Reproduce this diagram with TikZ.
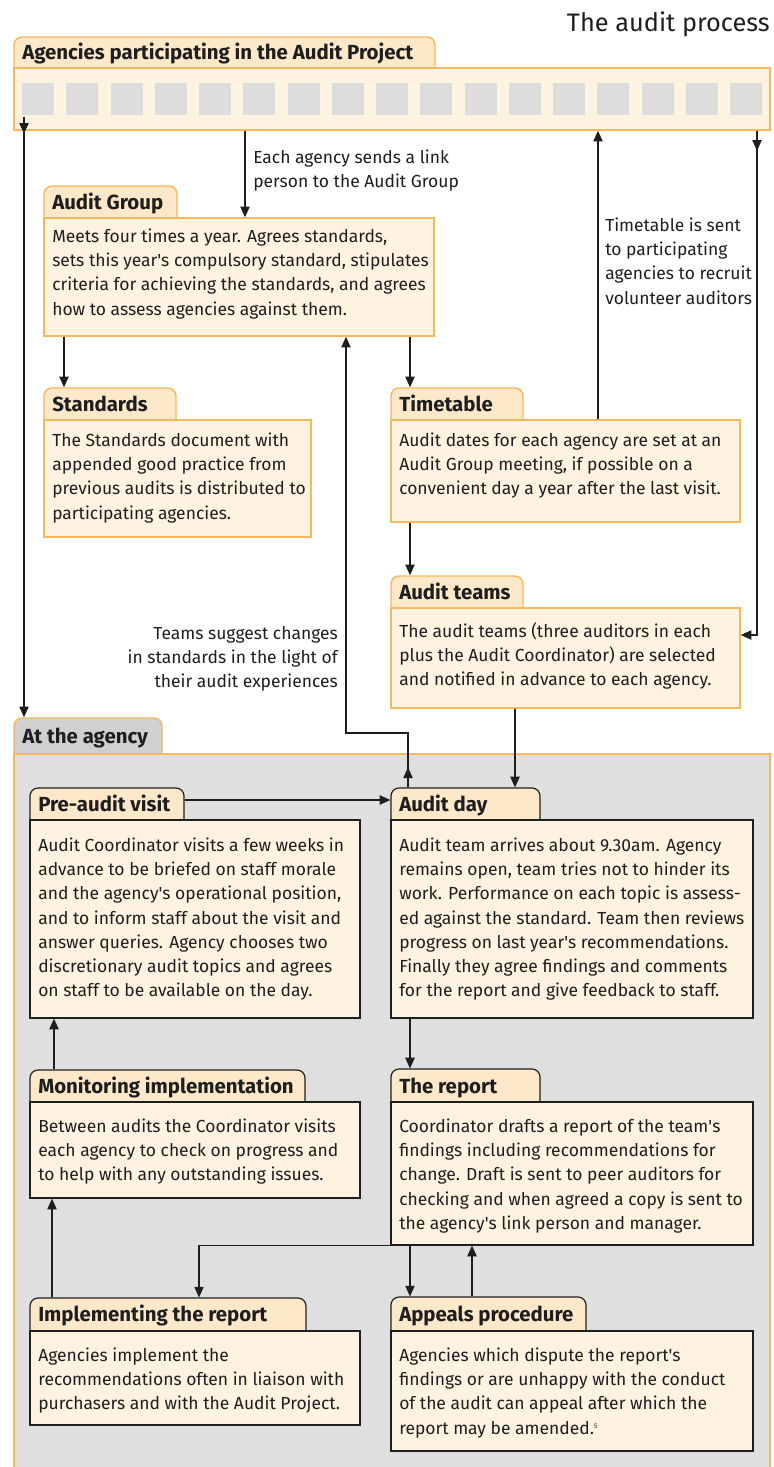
\documentclass[tikz,border=0pt]{standalone}
\usepackage{fontspec}
\setmainfont{Fira Sans}
\usetikzlibrary{arrows.meta,fit}
\definecolor{cream}{HTML}{FEF2E0}
\definecolor{tabcream}{HTML}{FDE8CA}
\definecolor{orangeb}{HTML}{F5B85C}
\definecolor{sq}{HTML}{DDDDDD}
\definecolor{agency}{HTML}{DFDFDF}
\definecolor{agencytab}{HTML}{D0D0D0}
\definecolor{ink}{HTML}{1E1E1E}
\newcommand\fs{\rule{0pt}{10.5pt}}
\newcommand\q{\textquotesingle}
\begin{document}
\begin{tikzpicture}[x=0.75pt,y=-0.75pt,
  otab/.style={draw=orangeb, line width=1.1pt, fill=tabcream, rounded corners=6pt, inner sep=0pt},
  obox/.style={draw=orangeb, line width=1.1pt, fill=cream, inner sep=0pt, rounded corners=0pt},
  dtab/.style={draw=ink, line width=0.9pt, fill=tabcream, rounded corners=6pt, inner sep=0pt},
  dbox/.style={draw=ink, line width=0.9pt, fill=cream, inner sep=0pt},
  head/.style={font=\fontsize{15.3}{18}\selectfont\bfseries, anchor=base west, inner sep=0pt, text=ink},
  body/.style={font=\fontsize{13.1}{18.2}\selectfont, anchor=north west, inner sep=0pt, align=left, text=ink},
  rbody/.style={body, anchor=north east, align=right},
  conn/.style={draw=ink, line width=0.9pt},
  arr/.style={conn, -{Triangle[length=8pt,width=7pt]}},
]
\useasboundingbox (0,0) rectangle (774,1467);
\fill[white] (0,0) rectangle (774,1467);

% title
\node[anchor=base east, inner sep=0pt, font=\fontsize{19}{21}\selectfont, text=ink] (title) at (770,31) {The audit process};

% top block
\node[otab, fit={(14,37) (435,80)}] (topTab) {};
\node[obox, fit={(14,68) (770,130)}] (topBox) {};
\node[head] (topHead) at (22,59) {Agencies participating in the Audit Project};
\foreach \i in {0,...,16} \fill[sq] (22+44.25*\i,83) rectangle ++(32,32);

% Audit group
\node[otab, fit={(44,186) (177,230)}] (agTab) {};
\node[obox, fit={(44,218) (434,336)}] (agBox) {};
\node[head] (agHead) at (52,209) {Audit Group};
\node[body] (agText) at (52,228) {\fs Meets four times a year. Agrees standards,\\ sets this year\q s compulsory standard, stipulates\\ criteria for achieving the standards, and agrees\\ how to assess agencies against them.};

% Standards
\node[otab, fit={(44,388) (176,432)}] (stTab) {};
\node[obox, fit={(44,420) (311,537)}] (stBox) {};
\node[head] (stHead) at (52,411) {Standards};
\node[body] (stText) at (52,432) {\fs The Standards document with\\ appended good practice from\\ previous audits is distributed to\\ participating agencies.};

% Timetable
\node[otab, fit={(391,388) (523,432)}] (ttTab) {};
\node[obox, fit={(391,420) (740,522)}] (ttBox) {};
\node[head] (ttHead) at (399,411) {Timetable};
\node[body] (ttText) at (399,432) {\fs Audit dates for each agency are set at an\\ Audit Group meeting, if possible on a\\ convenient day a year after the last visit.};

% Audit teams
\node[otab, fit={(391,576) (523,620)}] (atTab) {};
\node[obox, fit={(391,608) (740,708)}] (atBox) {};
\node[head] (atHead) at (399,599) {Audit teams};
\node[body] (atText) at (399,622) {\fs The audit teams (three auditors in each\\ plus the Audit Coordinator) are selected\\ and notified in advance to each agency.};

% labels
\node[body] (lblLink) at (253,149) {\fs Each agency sends a link\\ person to the Audit Group};
\node[body] (lblTime) at (605,217) {\fs Timetable is sent\\ to participating\\ agencies to recruit\\ volunteer auditors};
\node[rbody] (lblTeams) at (338,625) {\fs Teams suggest changes\\ in standards in the light of\\ their audit experiences};

% At the agency
\node[draw=orangeb, line width=1.1pt, fill=agencytab, rounded corners=6pt, inner sep=0pt, fit={(14,718) (162,766)}] (aaTab) {};
\node[draw=orangeb, line width=1.1pt, fill=agency, inner sep=0pt, fit={(14,754) (770,1485)}] (aaBox) {};
\node[head] (aaHead) at (22,743) {At the agency};

% Pre-audit visit
\node[dtab, fit={(30,788) (184,832)}] (paTab) {};
\node[dbox, fit={(30,820) (360,1018)}] (paBox) {};
\node[head] (paHead) at (38,811) {Pre-audit visit};
\node[body] (paText) at (38,837) {\fs Audit Coordinator visits a few weeks in\\ advance to be briefed on staff morale\\ and the agency\q s operational position,\\ and to inform staff about the visit and\\ answer queries. Agency chooses two\\ discretionary audit topics and agrees\\ on staff to be available on the day.};

% Audit day
\node[dtab, fit={(391,788) (540,832)}] (adTab) {};
\node[dbox, fit={(391,820) (753,1018)}] (adBox) {};
\node[head] (adHead) at (399,811) {Audit day};
\node[body] (adText) at (399,837) {\fs Audit team arrives about 9.30am. Agency\\ remains open, team tries not to hinder its\\ work. Performance on each topic is assess-\\ ed against the standard. Team then reviews\\ progress on last year\q s recommendations.\\ Finally they agree findings and comments\\ for the report and give feedback to staff.};

% Monitoring implementation
\node[dtab, fit={(30,1070) (305,1114)}] (moTab) {};
\node[dbox, fit={(30,1102) (360,1198)}] (moBox) {};
\node[head] (moHead) at (38,1093) {Monitoring implementation};
\node[body] (moText) at (38,1118) {\fs Between audits the Coordinator visits\\ each agency to check on progress and\\ to help with any outstanding issues.};

% The report
\node[dtab, fit={(391,1069) (540,1114)}] (rpTab) {};
\node[dbox, fit={(391,1102) (753,1245)}] (rpBox) {};
\node[head] (rpHead) at (399,1093) {The report};
\node[body] (rpText) at (399,1118) {\fs Coordinator drafts a report of the team\q s\\ findings including recommendations for\\ change. Draft is sent to peer auditors for\\ checking and when agreed a copy is sent to\\ the agency\q s link person and manager.};

% Implementing the report
\node[dtab, fit={(30,1298) (306,1343)}] (imTab) {};
\node[dbox, fit={(30,1331) (360,1425)}] (imBox) {};
\node[head] (imHead) at (38,1321) {Implementing the report};
\node[body] (imText) at (38,1347) {\fs Agencies implement the\\ recommendations often in liaison with\\ purchasers and with the Audit Project.};

% Appeals procedure
\node[dtab, fit={(391,1297) (586,1343)}] (apTab) {};
\node[dbox, fit={(391,1331) (753,1451)}] (apBox) {};
\node[head] (apHead) at (399,1321) {Appeals procedure};
\node[body] (apText) at (399,1347) {\fs Agencies which dispute the report\q s\\ findings or are unhappy with the conduct\\ of the audit can appeal after which the\\ report may be amended.\textsuperscript{\tiny 5}};

% helper coordinates
\coordinate (x24) at (24,0);
\coordinate (x52) at (52,0);
\coordinate (x54) at (54,0);
\coordinate (x64) at (64,0);
\coordinate (x199) at (199,0);
\coordinate (x245) at (245,0);
\coordinate (x408) at (408,0);
\coordinate (x410) at (410,0);
\coordinate (x472) at (472,0);
\coordinate (x515) at (515,0);
\coordinate (x598) at (598,0);
\coordinate (r1) at (757,635);
\coordinate (fb) at (346,733);
\coordinate (y800) at (0,800);

% connectors
\draw[arr] (topBox.south -| x245) -- (agBox.north -| x245);
\draw[arr] (agBox.south -| x64) -- (stTab.north -| x64);
\draw[arr] (agBox.south -| x410) -- (ttTab.north -| x410);
\draw[arr] (ttBox.north -| x598) -- (topBox.south -| x598);
\draw[arr] (topBox.south -| r1) -- ++(0,20);
\draw[arr] (topBox.south -| r1) -- (r1) -- (atBox.east |- r1);
\draw[arr] (topBox.south -| x24) ++(0,-14) -- ++(0,17);
\draw[arr] (topBox.south -| x24) -- (aaTab.north -| x24);
\draw[arr] (ttBox.south -| x410) -- (atTab.north -| x410);
\draw[arr] (atBox.south -| x515) -- (adTab.north -| x515);
\draw[arr] (adTab.north -| x408) -- ++(0,-20);
\draw[arr] (adTab.north -| x408) -- (x408 |- fb) -- (fb) -- (agBox.south -| fb);
\draw[arr] (paTab.east |- y800) -- (adTab.west |- y800);
\draw[arr] (adBox.south -| x410) -- (rpTab.north -| x410);
\draw[arr] (moTab.north -| x54) -- (paBox.south -| x54);
\draw[arr] (imTab.north -| x52) -- (moBox.south -| x52);
\draw[arr] (rpBox.south west) -| (imTab.north -| x199);
\draw[arr] (rpBox.south -| x410) -- (apTab.north -| x410);
\draw[arr] (apTab.north -| x472) -- (rpBox.south -| x472);
\end{tikzpicture}
\end{document}
